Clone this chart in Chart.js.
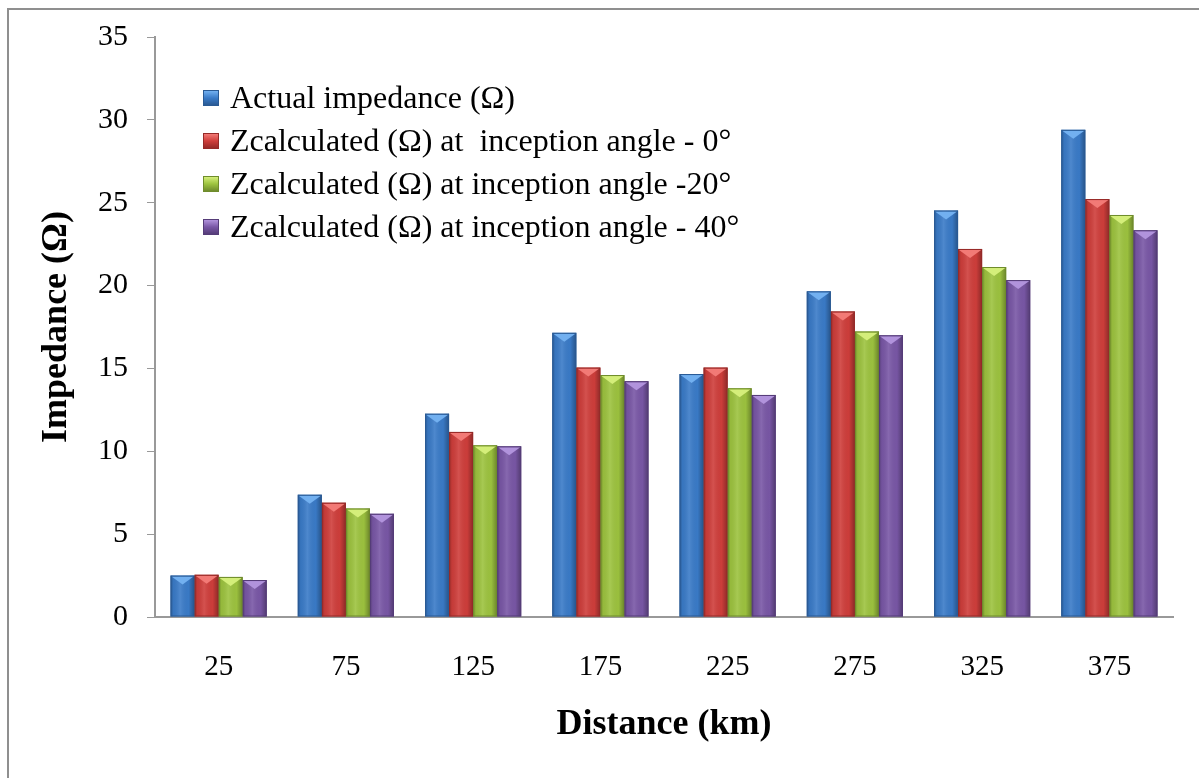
<!DOCTYPE html>
<html>
<head>
<meta charset="utf-8">
<script src="https://cdn.jsdelivr.net/npm/chart.js@4.4.0/dist/chart.umd.min.js"></script>
<style>
    html, body { margin: 0; padding: 0; background: #fff; }
    #cadre { position: relative; width: 1199px; height: 778px; overflow: hidden; }
    #legende { position: absolute; left: 203px; top: 76px; font-family: "Liberation Serif", serif; font-size: 32px; color: #000; }
    .item { height: 43px; display: flex; align-items: center; white-space: pre; }
    .carre { width: 16px; height: 16px; margin-right: 11px; box-sizing: border-box; }
</style>
</head>
<body>
<div id="cadre">
    <canvas id="graphique" width="1199" height="778"></canvas>
    <div id="legende"></div>
</div>
<script>
// distances (km) et impédances
const distances = ['25', '75', '125', '175', '225', '275', '325', '375'];
const impedanceReelle = [2.5, 7.38, 12.27, 17.15, 14.66, 19.65, 24.53, 29.4];
const zAngle0 = [2.55, 6.9, 11.17, 15.05, 15.05, 18.44, 22.21, 25.22];
const zAngle20 = [2.42, 6.55, 10.36, 14.6, 13.8, 17.23, 21.12, 24.26];
const zAngle40 = [2.23, 6.23, 10.3, 14.23, 13.4, 17.0, 20.33, 23.34];

const nomsSeries = [
    'Actual impedance (\u03A9)',
    'Zcalculated (\u03A9) at  inception angle - 0\u00B0',
    'Zcalculated (\u03A9) at inception angle -20\u00B0',
    'Zcalculated (\u03A9) at inception angle - 40\u00B0'
];
const couleurs = ['#3a7bc8', '#cf3e3b', '#9dc33f', '#7957a6'];
const couleursClaires = ['#72b0f0', '#f27a76', '#d4ee7a', '#b193dc'];
const couleursBord = ['#2a5a94', '#962a28', '#6f8c2c', '#553c78'];

const police = '"Liberation Serif", "Times New Roman", serif';

/**
 * Dessine le cadre gris autour du graphique
 */
const cadrePlugin = {
    id: 'cadre',
    beforeDraw(chart) {
        const ctx = chart.ctx;
        ctx.save();
        ctx.fillStyle = '#fff';
        ctx.fillRect(0, 0, chart.width, chart.height);
        ctx.strokeStyle = '#8f8f8f';
        ctx.lineWidth = 2;
        ctx.strokeRect(8, 9, 1400, 1000);
        ctx.restore();
    }
};

/**
 * Ajoute l'effet biseauté sur chaque barre (ombrage + triangle en haut)
 */
const biseauPlugin = {
    id: 'biseau',
    afterDatasetsDraw(chart) {
        const ctx = chart.ctx;
        ctx.save();
        chart.data.datasets.forEach((ds, i) => {
            const meta = chart.getDatasetMeta(i);
            meta.data.forEach((bar) => {
                const l = bar.x - bar.width / 2;
                const r = bar.x + bar.width / 2;
                const top = bar.y;
                const bas = bar.base;
                const grad = ctx.createLinearGradient(l, 0, r, 0);
                grad.addColorStop(0, 'rgba(0,0,0,0.28)');
                grad.addColorStop(0.12, 'rgba(0,0,0,0.05)');
                grad.addColorStop(0.4, 'rgba(255,255,255,0.10)');
                grad.addColorStop(0.75, 'rgba(0,0,0,0.02)');
                grad.addColorStop(1, 'rgba(0,0,0,0.32)');
                ctx.fillStyle = grad;
                ctx.fillRect(l, top, r - l, bas - top);

                // triangle clair au sommet
                const h = Math.min(9, (bas - top) / 2);
                ctx.fillStyle = couleursClaires[i];
                ctx.beginPath();
                ctx.moveTo(l + 1, top + 1);
                ctx.lineTo(r - 1, top + 1);
                ctx.lineTo(bar.x, top + h);
                ctx.closePath();
                ctx.fill();

                ctx.strokeStyle = couleursBord[i];
                ctx.lineWidth = 1;
                ctx.strokeRect(l + 0.5, top + 0.5, r - l - 1, bas - top - 1);
            });
        });
        ctx.restore();
    }
};

const datasets = [impedanceReelle, zAngle0, zAngle20, zAngle40].map((valeurs, i) => ({
    label: nomsSeries[i],
    data: valeurs,
    backgroundColor: couleurs[i],
    borderWidth: 0
}));

const ctx = document.getElementById('graphique').getContext('2d');
new Chart(ctx, {
    type: 'bar',
    data: {
        labels: distances,
        datasets: datasets
    },
    options: {
        responsive: false,
        animation: false,
        layout: {
            padding: {top: 37, right: 26, left: 31, bottom: 20}
        },
        datasets: {
            bar: {
                barPercentage: 1,
                categoryPercentage: 0.756
            }
        },
        scales: {
            x: {
                grid: {display: false, drawTicks: false},
                border: {color: '#999', width: 2},
                ticks: {
                    color: '#000',
                    padding: 33,
                    font: {family: police, size: 29}
                },
                title: {
                    display: true,
                    text: 'Distance (km)',
                    color: '#000',
                    font: {family: police, size: 36, weight: 'bold'},
                    padding: {top: 0, bottom: 12}
                },
                afterFit(scale) {
                    scale.height = 778 - 20 - 617;
                }
            },
            y: {
                min: 0,
                max: 35,
                grid: {drawOnChartArea: false, drawTicks: true, tickLength: 8, color: '#999'},
                border: {color: '#999', width: 2},
                ticks: {
                    stepSize: 5,
                    color: '#000',
                    padding: 19,
                    font: {family: police, size: 30}
                },
                title: {
                    display: true,
                    text: 'Impedance (\u03A9)',
                    color: '#000',
                    font: {family: police, size: 36, weight: 'bold'},
                    padding: 4
                },
                afterFit(scale) {
                    scale.width = 155 - 31;
                }
            }
        },
        plugins: {
            legend: {display: false},
            tooltip: {enabled: false}
        }
    },
    plugins: [cadrePlugin, biseauPlugin]
});

// légende HTML placée dans la zone du graphique
const legende = document.getElementById('legende');
nomsSeries.forEach((nom, i) => {
    const item = document.createElement('div');
    item.className = 'item';
    const carre = document.createElement('span');
    carre.className = 'carre';
    carre.style.background = 'linear-gradient(180deg, ' + couleursClaires[i] + ' 0%, ' + couleurs[i] + ' 50%, ' + couleursBord[i] + ' 100%)';
    carre.style.border = '1px solid ' + couleursBord[i];
    const texte = document.createElement('span');
    texte.textContent = nom;
    item.appendChild(carre);
    item.appendChild(texte);
    legende.appendChild(item);
});
</script>
</body>
</html>
